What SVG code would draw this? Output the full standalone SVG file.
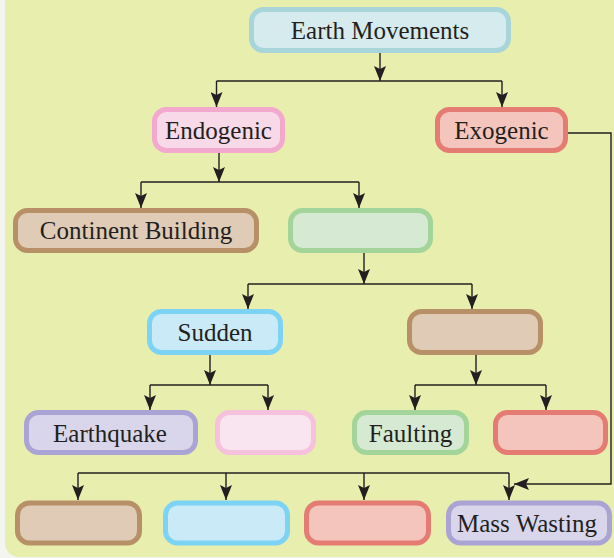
<svg xmlns="http://www.w3.org/2000/svg" width="614" height="558" viewBox="0 0 614 558">
<style>
.t{font-family:"Liberation Serif","Times New Roman",serif;font-size:25px;fill:#231f20;text-anchor:middle}
.b{stroke-width:5}
.teal{fill:#d6ebee;stroke:#a7d5d9}
.pink{fill:#f7d9e8;stroke:#f2a9cd}
.red{fill:#f4c5bc;stroke:#e57c74}
.brown{fill:#dfcbb6;stroke:#b89068}
.green{fill:#d6e9d2;stroke:#a3d59b}
.blue{fill:#cbeaf7;stroke:#7dd3f3}
.purple{fill:#d9d6eb;stroke:#aaa4d5}
.lpink{fill:#f9e5ef;stroke:#f5c1dc}
.c{fill:none;stroke:#231f20;stroke-width:1.4}
</style>
<defs>
<marker id="ah" viewBox="0 0 15 12" refX="15" refY="6" markerWidth="15" markerHeight="12" markerUnits="userSpaceOnUse" orient="auto">
<path d="M0,0 L15,6 L0,12 L3,6 Z" fill="#231f20"/>
</marker>
</defs>
<rect x="0" y="0" width="614" height="558" fill="#f4f4f1"/>
<rect x="5" y="-20" width="640" height="577" rx="14" fill="#e8eeae"/>
<g id="connectors">
<path class="c" d="M380,53 V81" marker-end="url(#ah)"/>
<path class="c" d="M216.5,81 H502"/>
<path class="c" d="M216.5,81 V107" marker-end="url(#ah)"/>
<path class="c" d="M502,81 V107" marker-end="url(#ah)"/>
<path class="c" d="M219,153 V182" marker-end="url(#ah)"/>
<path class="c" d="M141,182 H359"/>
<path class="c" d="M141,182 V208" marker-end="url(#ah)"/>
<path class="c" d="M359,182 V208" marker-end="url(#ah)"/>
<path class="c" d="M364,253 V284" marker-end="url(#ah)"/>
<path class="c" d="M248,284 H472"/>
<path class="c" d="M248,284 V309" marker-end="url(#ah)"/>
<path class="c" d="M472,284 V309" marker-end="url(#ah)"/>
<path class="c" d="M210,355 V385" marker-end="url(#ah)"/>
<path class="c" d="M150,385 H268"/>
<path class="c" d="M150,385 V410" marker-end="url(#ah)"/>
<path class="c" d="M268,385 V410" marker-end="url(#ah)"/>
<path class="c" d="M476,355 V385" marker-end="url(#ah)"/>
<path class="c" d="M415,385 H546"/>
<path class="c" d="M415,385 V410" marker-end="url(#ah)"/>
<path class="c" d="M546,385 V410" marker-end="url(#ah)"/>
<path class="c" d="M78,473 H509"/>
<path class="c" d="M78,473 V500" marker-end="url(#ah)"/>
<path class="c" d="M226,473 V500" marker-end="url(#ah)"/>
<path class="c" d="M364,473 V500" marker-end="url(#ah)"/>
<path class="c" d="M509,473 V500" marker-end="url(#ah)"/>
<path class="c" d="M568,133 H611 V484 H514" marker-end="url(#ah)"/>
</g>
<g id="earth-movements"><rect class="b teal" x="251.5" y="9.5" width="257" height="41" rx="12"/><text class="t" x="380" y="38.5">Earth Movements</text></g>
<g id="endogenic"><rect class="b pink" x="154.5" y="109.5" width="128" height="41" rx="12"/><text class="t" x="218.5" y="138.5">Endogenic</text></g>
<g id="exogenic"><rect class="b red" x="437.5" y="109.5" width="128" height="41" rx="12"/><text class="t" x="501.5" y="138.5">Exogenic</text></g>
<g id="continent-building"><rect class="b brown" x="15.5" y="210.5" width="241" height="40" rx="12"/><text class="t" x="136" y="239">Continent Building</text></g>
<g id="green-blank"><rect class="b green" x="290.5" y="210.5" width="140" height="40" rx="12"/></g>
<g id="sudden"><rect class="b blue" x="149.5" y="311.5" width="131" height="41" rx="12"/><text class="t" x="215" y="340.5">Sudden</text></g>
<g id="brown-blank"><rect class="b brown" x="409.5" y="311.5" width="131" height="41" rx="12"/></g>
<g id="earthquake"><rect class="b purple" x="26.5" y="412.5" width="169" height="40" rx="12"/><text class="t" x="110" y="441.5">Earthquake</text></g>
<g id="pink-blank"><rect class="b lpink" x="217.5" y="412.5" width="96" height="40" rx="12"/></g>
<g id="faulting"><rect class="b green" x="354.5" y="412.5" width="112" height="40" rx="12"/><text class="t" x="410.5" y="441.5">Faulting</text></g>
<g id="red-blank"><rect class="b red" x="495.5" y="412.5" width="110" height="40" rx="12"/></g>
<g id="brown-blank-2"><rect class="b brown" x="17.5" y="503" width="122" height="40" rx="12"/></g>
<g id="blue-blank"><rect class="b blue" x="165.5" y="503" width="122" height="40" rx="12"/></g>
<g id="red-blank-2"><rect class="b red" x="306.5" y="503" width="122" height="40" rx="12"/></g>
<g id="mass-wasting"><rect class="b purple" x="448.5" y="503" width="161" height="40" rx="12"/><text class="t" x="527" y="532">Mass Wasting</text></g>
</svg>
